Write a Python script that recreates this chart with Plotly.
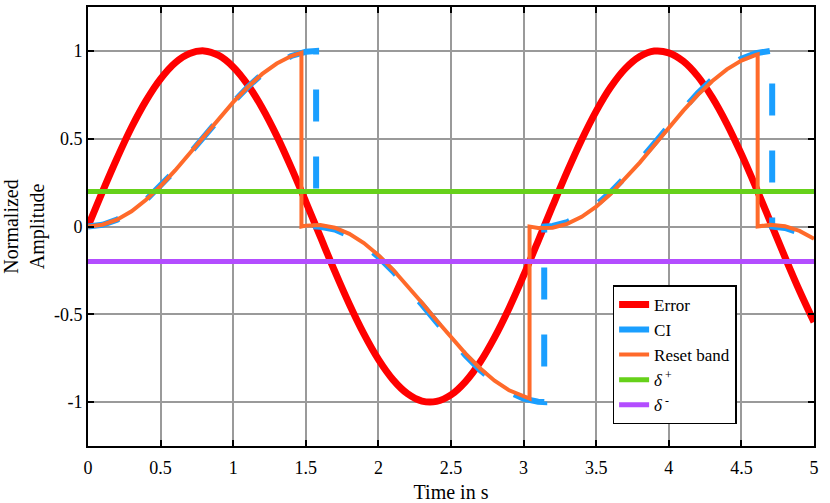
import plotly.graph_objects as go

# time grid (s)
t_error = [0, 0.1, 0.2, 0.3, 0.4, 0.5, 0.6, 0.7, 0.8, 0.9,
           1.0, 1.1, 1.2, 1.3, 1.4, 1.5, 1.6, 1.7, 1.8, 1.9,
           2.0, 2.1, 2.2, 2.3, 2.4, 2.5, 2.6, 2.7, 2.8, 2.9,
           3.0, 3.1, 3.2, 3.3, 3.4, 3.5, 3.6, 3.7, 3.8, 3.9,
           4.0, 4.1, 4.2, 4.3, 4.4, 4.5, 4.6, 4.7, 4.8, 4.9, 5.0]
error = [0, 0.199, 0.389, 0.565, 0.717, 0.841, 0.932, 0.985, 1.0, 0.974,
         0.909, 0.808, 0.675, 0.516, 0.335, 0.141, -0.058, -0.256, -0.443, -0.612,
         -0.757, -0.872, -0.952, -0.994, -0.996, -0.959, -0.883, -0.773, -0.631, -0.465,
         -0.279, -0.083, 0.117, 0.312, 0.494, 0.657, 0.794, 0.899, 0.968, 0.999,
         0.989, 0.941, 0.855, 0.734, 0.585, 0.412, 0.223, 0.025, -0.174, -0.366, -0.544]

# clegg integrator (resets at zero crossings of the error)
t_ci = [0, 0.1, 0.2, 0.3, 0.4, 0.5, 0.6, 0.7, 0.8, 0.9, 1.0, 1.1, 1.2, 1.3, 1.4, 1.5, 1.571,
        1.571, 1.6, 1.7, 1.8, 1.9, 2.0, 2.1, 2.2, 2.3, 2.4, 2.5, 2.6, 2.7, 2.8, 2.9, 3.0, 3.1, 3.142,
        3.142, 3.2, 3.3, 3.4, 3.5, 3.6, 3.7, 3.8, 3.9, 4.0, 4.1, 4.2, 4.3, 4.4, 4.5, 4.6, 4.7, 4.712,
        4.712, 4.8, 4.9, 5.0]
ci = [0, 0.010, 0.039, 0.087, 0.152, 0.230, 0.319, 0.415, 0.515, 0.614, 0.708, 0.794, 0.869, 0.928, 0.971, 0.995, 1.0,
      0, -0.001, -0.017, -0.052, -0.105, -0.173, -0.255, -0.346, -0.444, -0.544, -0.642, -0.734, -0.817, -0.888, -0.943, -0.980, -0.998, -1.0,
      0, 0.003, 0.025, 0.065, 0.123, 0.196, 0.281, 0.374, 0.473, 0.573, 0.670, 0.760, 0.839, 0.906, 0.956, 0.987, 1.0, 1.0,
      0, -0.008, -0.035, -0.080]

# reset band integrator (resets when the error enters the band)
t_reset = [0, 0.1, 0.2, 0.3, 0.4, 0.5, 0.6, 0.7, 0.8, 0.9, 1.0, 1.1, 1.2, 1.3, 1.4, 1.47,
           1.47, 1.5, 1.6, 1.7, 1.8, 1.9, 2.0, 2.1, 2.2, 2.3, 2.4, 2.5, 2.6, 2.7, 2.8, 2.9, 3.0, 3.041,
           3.041, 3.1, 3.2, 3.3, 3.4, 3.5, 3.6, 3.7, 3.8, 3.9, 4.0, 4.1, 4.2, 4.3, 4.4, 4.5, 4.6, 4.612,
           4.612, 4.7, 4.8, 4.9, 5.0]
reset_band = [0, 0.010, 0.039, 0.087, 0.152, 0.230, 0.319, 0.415, 0.515, 0.614, 0.708, 0.794, 0.869, 0.928, 0.971, 0.990,
              0, 0.005, 0.009, -0.007, -0.042, -0.094, -0.163, -0.245, -0.336, -0.434, -0.534, -0.632, -0.724, -0.807, -0.878, -0.933, -0.970, -0.980,
              0, -0.008, -0.007, 0.015, 0.055, 0.113, 0.186, 0.271, 0.364, 0.463, 0.563, 0.660, 0.750, 0.829, 0.895, 0.945, 0.977, 0.980,
              0, 0.010, 0.002, -0.025, -0.070]

t_band = [0, 5]
delta_plus = [0.2, 0.2]
delta_minus = [-0.2, -0.2]

x_ticks = [0, 0.5, 1, 1.5, 2, 2.5, 3, 3.5, 4, 4.5, 5]
x_labels = ["0", "0.5", "1", "1.5", "2", "2.5", "3", "3.5", "4", "4.5", "5"]
y_ticks = [-1, -0.5, 0, 0.5, 1]
y_labels = ["-1", "-0.5", "0", "0.5", "1"]

FONT = "Liberation Serif"

fig = go.Figure()
fig.add_trace(go.Scatter(x=t_error, y=error, mode="lines", name="Error",
                         line=dict(color="#ff0000", width=7, shape="spline")))
fig.add_trace(go.Scatter(x=t_ci, y=ci, mode="lines", name="CI",
                         line=dict(color="#1a9fff", width=6, dash="32px,35px")))
fig.add_trace(go.Scatter(x=t_reset, y=reset_band, mode="lines", name="Reset band",
                         line=dict(color="#ff6a2a", width=4)))
fig.add_trace(go.Scatter(x=t_band, y=delta_plus, mode="lines", name="<i>δ</i><sup> +</sup>",
                         line=dict(color="#66d11a", width=5)))
fig.add_trace(go.Scatter(x=t_band, y=delta_minus, mode="lines", name="<i>δ</i><sup> -</sup>",
                         line=dict(color="#b34dff", width=5)))

axis_style = dict(
    showgrid=True, gridcolor="#9a9a9a", gridwidth=1.5,
    zeroline=False, automargin=False,
    showline=True, linecolor="black", linewidth=2, mirror="ticks",
    ticks="inside", ticklen=6, tickwidth=1.5, tickcolor="black",
    tickfont=dict(family=FONT, size=18, color="black"),
)

fig.update_xaxes(range=[0, 5], tickvals=x_ticks, ticktext=x_labels, ticklabelstandoff=4,
                 title=dict(text="Time in s", font=dict(family=FONT, size=20, color="black"), standoff=12),
                 **axis_style)
fig.update_yaxes(range=[-1.25, 1.25], tickvals=y_ticks, ticktext=y_labels,
                 title=dict(text="Normalized<br>Amplitude", font=dict(family=FONT, size=20, color="black"), standoff=8),
                 **axis_style)

fig.update_layout(
    width=830, height=503,
    margin=dict(l=88, r=16, t=7, b=57),
    plot_bgcolor="white", paper_bgcolor="white",
    font=dict(family=FONT, size=18, color="black"),
    legend=dict(x=0.7226, y=0.366, xanchor="left", yanchor="top",
                bgcolor="white", bordercolor="black", borderwidth=1.5,
                font=dict(family=FONT, size=17, color="black"),
                tracegroupgap=0, itemwidth=30),
)

# drop the default page margin so the figure sits at the window corner
fig.write_html("out.html", config={"displayModeBar": False},
               post_script="document.body.style.margin='0';")
